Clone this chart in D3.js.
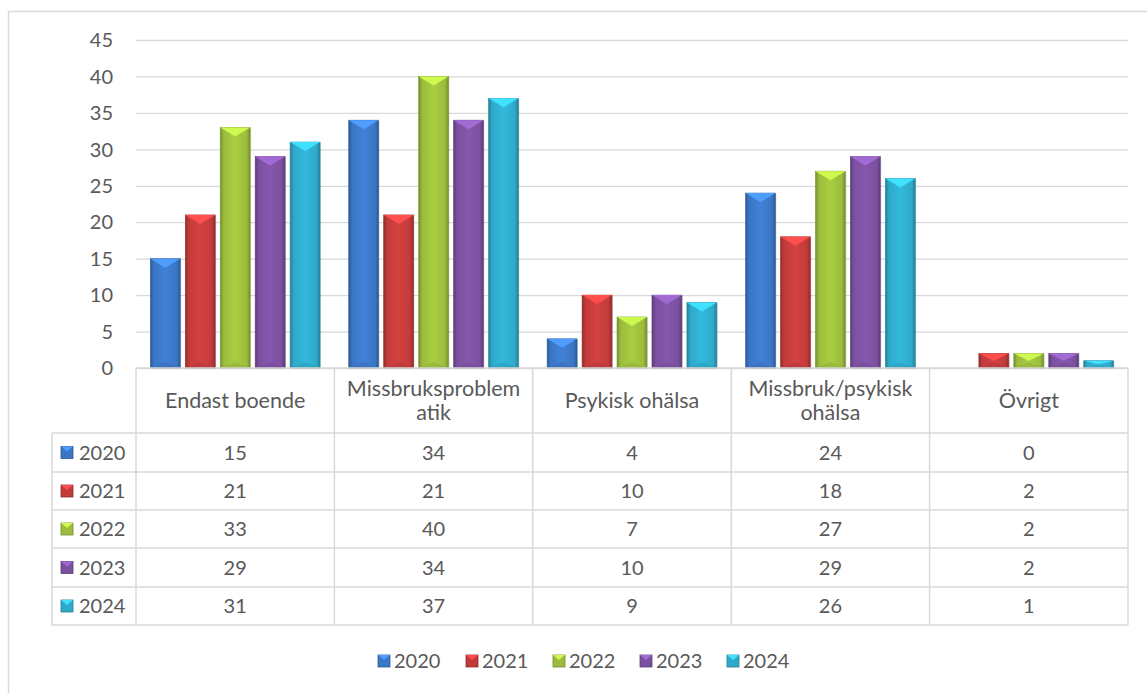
<!doctype html>
<html>
<head>
<meta charset="utf-8">
<style>
  body { margin: 0; background: #fff; }
  text { font-family: Lato, "Open Sans", sans-serif; fill: #595959; }
</style>
<script src="https://d3js.org/d3.v7.min.js"></script>
</head>
<body>
<svg width="1147" height="693"></svg>
<script>
var categories = ["Endast boende", "Missbruksproblematik", "Psykisk ohälsa", "Missbruk/psykisk ohälsa", "Övrigt"];
var categoryLines = [["Endast boende"], ["Missbruksproblem", "atik"], ["Psykisk ohälsa"], ["Missbruk/psykisk", "ohälsa"], ["Övrigt"]];
var years = ["2020", "2021", "2022", "2023", "2024"];
var v2020 = [15, 34, 4, 24, 0];
var v2021 = [21, 21, 10, 18, 2];
var v2022 = [33, 40, 7, 27, 2];
var v2023 = [29, 34, 10, 29, 2];
var v2024 = [31, 37, 9, 26, 1];
var yTicks = [0, 5, 10, 15, 20, 25, 30, 35, 40, 45];
var colors = ["#3b76c4", "#c23b3b", "#9bbc3c", "#7b509f", "#2fa9c9"];

var series = [v2020, v2021, v2022, v2023, v2024];

var svg = d3.select("svg");
var gridColor = "#d9d9d9";
var fs = "20px";

// outer frame
svg.append("rect")
   .attr("x", 8.5).attr("y", 11.5)
   .attr("width", 1160).attr("height", 720)
   .attr("fill", "none").attr("stroke", gridColor).attr("stroke-width", 1.5);

var plotLeft = 136, plotRight = 1128, plotTop = 40, base = 368;

var x = d3.scaleBand().domain(categories).range([plotLeft, plotRight]);
var xi = d3.scaleBand().domain(years).range([0, x.bandwidth()])
           .paddingInner(0.143).paddingOuter(0.41);
var y = d3.scaleLinear().domain([0, 45]).range([base, plotTop]);

// gradients for bevel look
var defs = svg.append("defs");
colors.forEach(function(c, i) {
    var g = defs.append("linearGradient").attr("id", "g" + i)
        .attr("x1", "0").attr("x2", "1").attr("y1", "0").attr("y2", "0");
    var dark = d3.color(c).darker(0.8), light = d3.color(c).brighter(0.25);
    g.append("stop").attr("offset", "0%").attr("stop-color", dark);
    g.append("stop").attr("offset", "12%").attr("stop-color", c);
    g.append("stop").attr("offset", "50%").attr("stop-color", light);
    g.append("stop").attr("offset", "88%").attr("stop-color", c);
    g.append("stop").attr("offset", "100%").attr("stop-color", dark);
});

// gridlines
svg.append("g").selectAll("line").data(yTicks).enter().append("line")
   .attr("x1", plotLeft).attr("x2", plotRight)
   .attr("y1", function(d) { return y(d) + 0.5; })
   .attr("y2", function(d) { return y(d) + 0.5; })
   .attr("stroke", gridColor).attr("stroke-width", 1.3);

// y labels
svg.append("g").selectAll("text").data(yTicks).enter().append("text")
   .attr("x", 113).attr("y", function(d) { return y(d); })
   .attr("dy", "0.36em").attr("text-anchor", "end")
   .attr("font-size", fs).text(function(d) { return d; });

// bars
var groups = svg.append("g").selectAll("g").data(series).enter().append("g");
groups.each(function(vals, si) {
    var g = d3.select(this);
    vals.forEach(function(v, ci) {
        if (v <= 0) return;
        var bx = x(categories[ci]) + xi(years[si]);
        var w = xi.bandwidth();
        var by = y(v), h = base - by;
        var c = colors[si];
        g.append("rect").attr("x", bx + 1).attr("y", by + 1).attr("width", w).attr("height", h)
         .attr("fill", "#000").attr("opacity", 0.12);
        g.append("rect").attr("x", bx).attr("y", by).attr("width", w).attr("height", h)
         .attr("fill", "url(#g" + si + ")")
         .attr("stroke", d3.color(c).darker(0.6)).attr("stroke-width", 0.6);
        var d = Math.min(9, h / 2);
        g.append("polygon")
         .attr("points", [[bx, by], [bx + w, by], [bx + w / 2, by + d]].join(" "))
         .attr("fill", d3.color(c).brighter(0.8));
        g.append("polygon")
         .attr("points", [[bx + 2, base], [bx + w - 2, base], [bx + w / 2, base - Math.min(6, h / 2)]].join(" "))
         .attr("fill", d3.color(c).darker(0.3)).attr("opacity", 0.5);
    });
});

// data table
var rowY = [368, 433, 472, 510, 548, 587, 625];
var tableLeft = 52;
var tbl = svg.append("g").attr("stroke", gridColor).attr("stroke-width", 1.5);
rowY.forEach(function(ry, i) {
    tbl.append("line")
       .attr("x1", i === 0 ? plotLeft : tableLeft).attr("x2", plotRight)
       .attr("y1", ry).attr("y2", ry);
});
tbl.append("line").attr("x1", tableLeft).attr("x2", tableLeft).attr("y1", rowY[1]).attr("y2", rowY[6]);
x.domain().concat(["end"]).forEach(function(cat) {
    var vx = cat === "end" ? plotRight : x(cat);
    tbl.append("line").attr("x1", vx).attr("x2", vx).attr("y1", rowY[0]).attr("y2", rowY[6]);
});

// header labels
categories.forEach(function(cat, ci) {
    var lines = categoryLines[ci];
    var cy = (rowY[0] + rowY[1]) / 2;
    var t = svg.append("text").attr("text-anchor", "middle").attr("font-size", "21.5px");
    lines.forEach(function(l, li) {
        t.append("tspan").attr("x", x(cat) + x.bandwidth() / 2)
         .attr("y", cy + (li - (lines.length - 1) / 2) * 24)
         .attr("dy", "0.36em").text(l);
    });
});

function marker(g, mx, my, c) {
    g.append("rect").attr("x", mx).attr("y", my).attr("width", 12).attr("height", 12)
     .attr("fill", c).attr("stroke", d3.color(c).darker(0.8)).attr("stroke-width", 0.8);
    g.append("polygon").attr("points", [[mx, my], [mx + 12, my], [mx + 6, my + 5]].join(" "))
     .attr("fill", d3.color(c).brighter(0.8));
}

// rows
series.forEach(function(vals, si) {
    var cy = (rowY[si + 1] + rowY[si + 2]) / 2;
    marker(svg, 61, cy - 6, colors[si]);
    svg.append("text").attr("x", 79).attr("y", cy).attr("dy", "0.36em")
       .attr("font-size", fs).text(years[si]);
    vals.forEach(function(v, ci) {
        svg.append("text").attr("x", x(categories[ci]) + x.bandwidth() / 2)
           .attr("y", cy).attr("dy", "0.36em").attr("text-anchor", "middle")
           .attr("font-size", fs).text(v);
    });
});

// legend
var legendX = [378, 466, 553, 640, 727];
years.forEach(function(yr, i) {
    marker(svg, legendX[i], 655, colors[i]);
    svg.append("text").attr("x", legendX[i] + 16).attr("y", 661).attr("dy", "0.36em")
       .attr("font-size", fs).text(yr);
});
</script>
</body>
</html>
